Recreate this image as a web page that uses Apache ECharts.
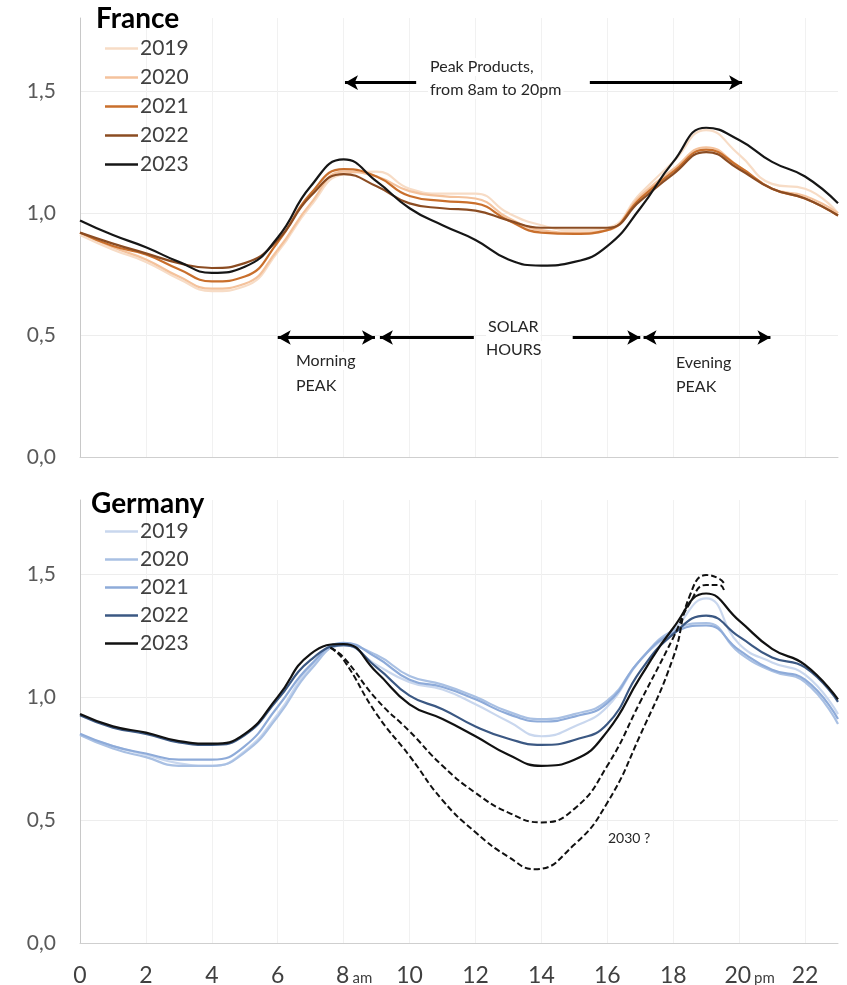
<!DOCTYPE html>
<html>
<head>
<meta charset="utf-8">
<script src="https://cdn.jsdelivr.net/npm/echarts@6/dist/echarts.min.js"></script>
<style>
  html, body { margin: 0; padding: 0; background: #fff; }
  #chart { width: 847px; height: 985px; }
</style>
</head>
<body>
<div id="chart"></div>
<script>
// Hour of day (0..23)
const hours = [0,1,2,3,4,5,6,7,8,9,10,11,12,13,14,15,16,17,18,19,20,21,22,23];
const years = ['2019','2020','2021','2022','2023'];
const yTicks = [0, 0.5, 1.0, 1.5];

// France: hourly load profile, relative to daily mean
const fr2019 = [0.91,0.85,0.80,0.73,0.68,0.70,0.84,1.03,1.16,1.17,1.10,1.08,1.08,1.00,0.95,0.93,0.94,1.08,1.21,1.34,1.24,1.12,1.10,1.00];
const fr2020 = [0.92,0.86,0.81,0.74,0.69,0.71,0.85,1.04,1.17,1.15,1.09,1.07,1.06,0.98,0.93,0.92,0.93,1.07,1.18,1.27,1.19,1.10,1.07,1.00];
const fr2021 = [0.92,0.865,0.83,0.77,0.72,0.74,0.88,1.08,1.18,1.15,1.07,1.05,1.04,0.97,0.92,0.915,0.93,1.06,1.17,1.26,1.19,1.10,1.06,0.99];
const fr2022 = [0.92,0.875,0.835,0.795,0.775,0.795,0.89,1.07,1.16,1.11,1.04,1.02,1.01,0.97,0.94,0.94,0.94,1.05,1.16,1.25,1.18,1.10,1.06,0.99];
const fr2023 = [0.97,0.91,0.86,0.80,0.755,0.78,0.90,1.11,1.22,1.13,1.02,0.95,0.89,0.81,0.785,0.80,0.865,1.02,1.21,1.35,1.30,1.21,1.15,1.04];

// Germany: hourly load profile, relative to daily mean
const de2019 = [0.845,0.80,0.765,0.73,0.72,0.78,0.93,1.12,1.21,1.13,1.06,1.03,0.97,0.90,0.84,0.88,0.96,1.15,1.27,1.40,1.215,1.14,1.09,0.93];
const de2020 = [0.845,0.79,0.755,0.72,0.72,0.775,0.92,1.11,1.21,1.17,1.085,1.05,1.00,0.94,0.91,0.93,0.985,1.15,1.27,1.30,1.18,1.105,1.06,0.89];
const de2021 = [0.85,0.80,0.77,0.745,0.745,0.80,0.96,1.13,1.22,1.16,1.07,1.04,0.99,0.93,0.90,0.92,0.975,1.15,1.26,1.29,1.19,1.11,1.07,0.91];
const de2022 = [0.925,0.875,0.85,0.815,0.805,0.845,0.99,1.15,1.21,1.12,1.005,0.95,0.88,0.83,0.805,0.825,0.89,1.105,1.255,1.33,1.245,1.16,1.12,0.98];
const de2023 = [0.93,0.88,0.855,0.82,0.81,0.85,1.00,1.175,1.215,1.10,0.97,0.91,0.84,0.765,0.72,0.745,0.86,1.08,1.28,1.42,1.31,1.195,1.13,0.99];

// Germany 2030 scenarios (dashed), from the morning peak to the evening peak
const scenHoursA = [7.6,8,9,10,11,12,13,14,15,16,17,18,18.5,19,19.4,19.55];
const scenA      = [1.20,1.16,0.99,0.86,0.72,0.61,0.53,0.49,0.545,0.72,0.98,1.24,1.38,1.455,1.455,1.43];
const scenHoursB = [7.6,8,9,10,11,12,13,13.8,15,16,17,18,18.5,19,19.4,19.55];
const scenB      = [1.20,1.15,0.93,0.76,0.58,0.45,0.35,0.30,0.40,0.57,0.845,1.16,1.41,1.495,1.48,1.46];

// Annotation spans (hours) and their heights (values)
const peakProductsLeft  = [10.2, 8.04];
const peakProductsRight = [15.47, 20.09];
const peakProductsY = 1.535;
const morningSpan = [6.0, 8.95];
const solarLeft   = [11.95, 9.1];
const solarRight  = [14.95, 17.0];
const eveningSpan = [17.1, 20.95];
const spanY = 0.49;

const frColors = ['#f7dcc6','#f4c29c','#c96f2c','#8b4c22','#161616'];
const deColors = ['#c9d7ee','#a9c0e3','#8eabd9','#3b5883','#111111'];
const frData = [fr2019, fr2020, fr2021, fr2022, fr2023];
const deData = [de2019, de2020, de2021, de2022, de2023];

const FONT = 'Lato, "Open Sans", sans-serif';
const SMOOTH = 0.5;
const pair = (xs, ys) => xs.map((h, i) => [h, ys[i]]);
const comma = v => v.toFixed(1).replace('.', ',');

function yAxis(gridIndex) {
  return {
    type: 'value', gridIndex, min: 0, max: 1.8, interval: 0.5,
    axisLine: { show: true, lineStyle: { color: '#c8c8c8', width: 1 } },
    axisTick: { show: false },
    axisLabel: {
      showMaxLabel: false, margin: 24, color: '#595959', fontFamily: FONT, fontSize: 21,
      formatter: v => (yTicks.indexOf(v) >= 0 ? comma(v) : '')
    },
    splitLine: { show: true, showMaxLine: false, lineStyle: { color: '#ededed', width: 1 } }
  };
}

function xAxis(gridIndex, showLabels) {
  return {
    type: 'value', gridIndex, min: 0, max: 23, interval: 2,
    axisLine: { show: true, onZero: false, lineStyle: { color: '#cfcfcf', width: 1 } },
    axisTick: { show: false },
    splitLine: { show: true, showMinLine: false, showMaxLine: false, lineStyle: { color: '#f1f1f1', width: 1 } },
    axisLabel: {
      show: showLabels, showMaxLabel: false, margin: 21, color: '#404040', fontFamily: FONT, fontSize: 23,
      formatter: v => {
        if (v === 8) return '{pad|}{n|8}{s|am}';
        if (v === 20) return '{pad|}{n|20}{s|pm}';
        if (v > 22) return '';
        return '{n|' + v + '}';
      },
      rich: {
        n: { fontFamily: FONT, fontSize: 23, color: '#404040' },
        s: { fontFamily: FONT, fontSize: 15, color: '#404040', padding: [5, 0, 0, 3] },
        pad: { width: 21 }
      }
    }
  };
}

function arrowLine(x1, x2, y, both) {
  return [
    { coord: [x1, y], symbol: both ? 'arrow' : 'none' },
    { coord: [x2, y], symbol: 'arrow' }
  ];
}

const series = [];
years.forEach((yr, i) => {
  series.push({
    name: 'France ' + yr, type: 'line', xAxisIndex: 0, yAxisIndex: 0,
    data: pair(hours, frData[i]), smooth: SMOOTH, symbol: 'none',
    lineStyle: { width: 2.2, color: frColors[i] }, itemStyle: { color: frColors[i] }, z: 2 + i
  });
});
years.forEach((yr, i) => {
  series.push({
    name: 'Germany ' + yr, type: 'line', xAxisIndex: 1, yAxisIndex: 1,
    data: pair(hours, deData[i]), smooth: SMOOTH, symbol: 'none',
    lineStyle: { width: 2.2, color: deColors[i] }, itemStyle: { color: deColors[i] }, z: 2 + i
  });
});
series.push({
  name: '2030 A', type: 'line', xAxisIndex: 1, yAxisIndex: 1,
  data: pair(scenHoursA, scenA), smooth: SMOOTH, symbol: 'none',
  lineStyle: { width: 2, color: '#111', type: [6, 3] }, z: 8
});
series.push({
  name: '2030 B', type: 'line', xAxisIndex: 1, yAxisIndex: 1,
  data: pair(scenHoursB, scenB), smooth: SMOOTH, symbol: 'none',
  lineStyle: { width: 2, color: '#111', type: [6, 3] }, z: 8
});

// Annotation arrows drawn in data space
const arrowStyle = { color: '#000', width: 3, type: 'solid' };
series.push({
  name: 'annotations', type: 'line', xAxisIndex: 0, yAxisIndex: 0, data: [],
  markLine: {
    silent: true, animation: false, symbolSize: [11, 13], label: { show: false },
    lineStyle: arrowStyle,
    data: [
      arrowLine(peakProductsLeft[0], peakProductsLeft[1], peakProductsY, false),
      arrowLine(peakProductsRight[0], peakProductsRight[1], peakProductsY, false),
      arrowLine(morningSpan[0], morningSpan[1], spanY, true),
      arrowLine(solarLeft[0], solarLeft[1], spanY, false),
      arrowLine(solarRight[0], solarRight[1], spanY, false),
      arrowLine(eveningSpan[0], eveningSpan[1], spanY, true)
    ]
  }
});

const legendBase = {
  orient: 'vertical', left: 100, itemWidth: 33, itemHeight: 2.5, icon: 'rect',
  textStyle: { fontFamily: FONT, fontSize: 21, color: '#404040', padding: [0, 0, 0, -3] },
  formatter: name => name.split(' ')[1], selectedMode: false
};

// Annotation text sits on a white box so grid lines do not run through it
const textStyleAnn = size => ({
  fontFamily: FONT, fontSize: size, fill: '#262626',
  backgroundColor: '#fff', padding: [1, 2]
});
const annText = (text, left, top, size) =>
  ({ type: 'text', left, top, z: 10, style: Object.assign({ text }, textStyleAnn(size)) });

const option = {
  animation: false,
  backgroundColor: '#fff',
  grid: [
    { left: 80, top: 18, width: 758, height: 439, outerBoundsMode: 'none', containLabel: false },
    { left: 80, top: 500, width: 758, height: 443, outerBoundsMode: 'none', containLabel: false }
  ],
  xAxis: [xAxis(0, false), xAxis(1, true)],
  yAxis: [yAxis(0), yAxis(1)],
  title: [
    { text: 'France', left: 91, top: 0, textStyle: { fontFamily: FONT, fontSize: 28, fontWeight: 'bold', color: '#000' } },
    { text: 'Germany', left: 86, top: 485, textStyle: { fontFamily: FONT, fontSize: 28, fontWeight: 'bold', color: '#000' } }
  ],
  legend: [
    Object.assign({}, legendBase, { top: 33, itemGap: 8, data: years.map(y => 'France ' + y) }),
    Object.assign({}, legendBase, { top: 516, itemGap: 7, data: years.map(y => 'Germany ' + y) })
  ],
  graphic: [
    annText('Peak Products,', 428, 58, 16),
    annText('from 8am to 20pm', 428, 81, 16),
    annText('Morning', 294, 352, 16),
    annText('PEAK', 294, 377, 16),
    annText('SOLAR', 486, 318, 16),
    annText('HOURS', 484, 341, 16),
    annText('Evening', 674, 354, 16),
    annText('PEAK', 674, 378, 16),
    annText('2030 ?', 606, 830, 14)
  ],
  series
};

const chart = echarts.init(document.getElementById('chart'), null, { renderer: 'canvas' });
chart.setOption(option);
</script>
</body>
</html>
